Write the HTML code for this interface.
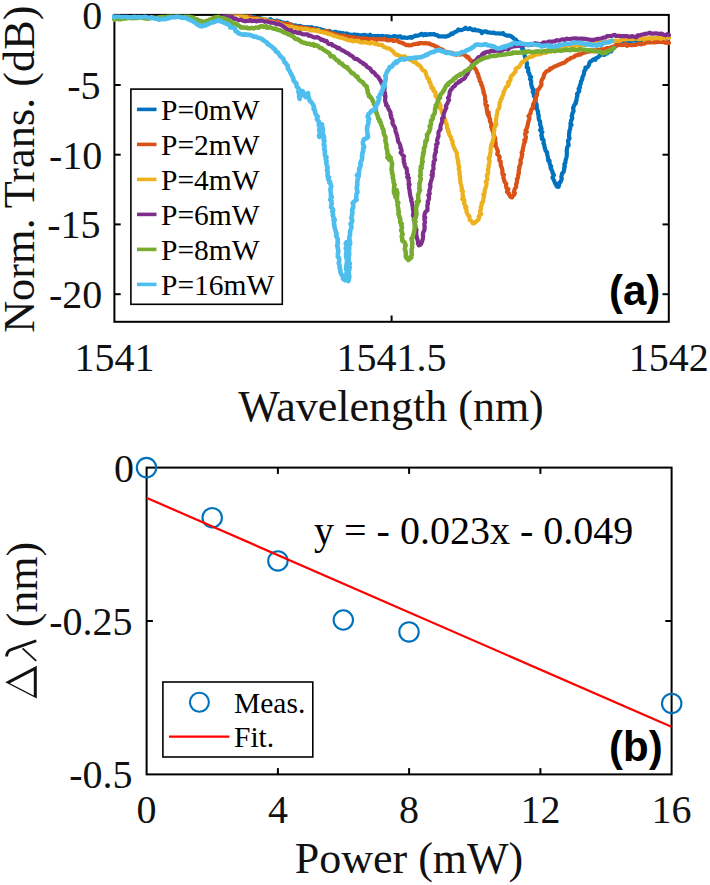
<!DOCTYPE html>
<html><head><meta charset="utf-8"><style>
html,body{margin:0;padding:0;background:#fff;width:710px;height:885px;overflow:hidden}
svg{display:block}
.tk{font-family:"Liberation Serif",serif;font-size:40px;fill:#111}
.lb{font-family:"Liberation Serif",serif;font-size:44px;fill:#111}
.lg{font-family:"Liberation Serif",serif;font-size:29.5px;fill:#000}
.eq{font-family:"Liberation Serif",serif;font-size:40px;fill:#000}
.pl{font-family:"Liberation Sans",sans-serif;font-size:42px;font-weight:bold;fill:#000}
</style></head><body>
<svg width="710" height="885" viewBox="0 0 710 885">
<rect x="114.4" y="14.9" width="554.4" height="306.90000000000003" fill="none" stroke="#000" stroke-width="2"/>
<text x="102.3" y="29.2" class="tk" text-anchor="end">0</text>
<line x1="114.4" y1="85.0" x2="120.7" y2="85.0" stroke="#000" stroke-width="2"/>
<line x1="668.8" y1="85.0" x2="662.5" y2="85.0" stroke="#000" stroke-width="2"/>
<text x="100.5" y="99.0" class="tk" text-anchor="end">-5</text>
<line x1="114.4" y1="154.7" x2="120.7" y2="154.7" stroke="#000" stroke-width="2"/>
<line x1="668.8" y1="154.7" x2="662.5" y2="154.7" stroke="#000" stroke-width="2"/>
<text x="102.3" y="168.7" class="tk" text-anchor="end">-10</text>
<line x1="114.4" y1="224.4" x2="120.7" y2="224.4" stroke="#000" stroke-width="2"/>
<line x1="668.8" y1="224.4" x2="662.5" y2="224.4" stroke="#000" stroke-width="2"/>
<text x="100.5" y="238.4" class="tk" text-anchor="end">-15</text>
<line x1="114.4" y1="294.2" x2="120.7" y2="294.2" stroke="#000" stroke-width="2"/>
<line x1="668.8" y1="294.2" x2="662.5" y2="294.2" stroke="#000" stroke-width="2"/>
<text x="102.3" y="308.2" class="tk" text-anchor="end">-20</text>
<text x="114.4" y="371" class="tk" text-anchor="middle">1541</text>
<line x1="391.6" y1="321.8" x2="391.6" y2="315.5" stroke="#000" stroke-width="2"/>
<line x1="391.6" y1="14.9" x2="391.6" y2="21.2" stroke="#000" stroke-width="2"/>
<text x="391.6" y="371" class="tk" text-anchor="middle">1541.5</text>
<text x="668.8" y="371" class="tk" text-anchor="middle">1542</text>
<defs><clipPath id="ca"><rect x="112" y="14.5" width="559" height="308"/></clipPath></defs>
<g clip-path="url(#ca)" fill="none" stroke-linejoin="round" stroke-linecap="round">
<polyline points="114.2,10.9 115.2,10.9 114.9,11.2 116.7,11.4 118.8,12.0 119.8,11.0 121.3,11.4 121.6,10.9 123.6,11.5 125.8,11.3 127.8,11.3 128.4,10.8 131.2,10.8 132.4,11.4 134.9,10.9 136.3,11.5 138.2,10.7 140.5,11.6 141.6,10.7 144.4,11.0 146.3,11.3 149.0,10.2 150.0,10.6 150.7,10.6 153.1,11.4 155.0,10.6 156.4,11.1 158.7,10.5 160.1,11.0 161.6,10.8 163.3,10.7 164.7,10.9 166.7,10.8 168.0,11.3 170.1,12.4 173.0,10.9 174.5,10.5 174.4,10.6 176.7,11.0 179.3,10.5 180.0,11.3 181.7,11.6 183.7,11.6 185.3,11.0 186.5,10.4 188.1,11.0 189.5,10.7 191.0,11.5 192.6,11.0 194.3,10.2 195.5,10.8 195.9,11.1 198.2,10.9 200.4,10.8 201.5,11.0 204.0,10.6 204.8,11.0 206.7,11.6 208.6,11.2 210.2,10.5 212.3,11.3 213.6,10.9 215.7,11.9 217.3,11.4 218.0,11.2 219.4,11.3 222.3,11.2 223.6,11.3 224.7,11.1 226.1,11.2 227.6,11.9 229.4,12.8 230.3,12.5 231.8,12.3 233.8,12.3 235.9,12.8 237.7,13.2 239.1,13.4 240.3,14.0 242.8,13.8 243.8,14.6 245.3,15.0 247.8,15.9 247.1,15.4 250.4,16.1 252.4,16.4 253.8,17.0 254.3,17.5 256.5,18.1 257.8,18.4 259.3,18.2 261.9,18.5 263.5,19.4 265.6,19.4 266.9,19.8 268.5,19.9 270.7,19.2 271.9,20.3 273.8,20.9 275.7,21.9 277.0,20.5 278.1,22.1 279.9,21.4 281.8,22.3 284.3,22.8 285.4,23.7 287.3,22.7 289.2,24.2 291.1,24.7 291.6,24.6 293.9,25.8 295.6,25.4 297.1,26.3 298.7,26.0 300.0,25.9 301.7,26.5 302.7,27.9 304.4,27.0 306.3,27.3 307.5,27.0 309.7,27.7 311.5,27.1 313.0,28.1 314.9,28.5 316.6,28.2 318.4,28.9 319.6,29.0 321.0,29.3 322.1,30.2 323.6,30.2 325.7,30.8 327.2,31.5 329.6,30.8 330.4,31.6 332.9,32.6 334.4,31.9 335.9,31.8 337.6,32.9 339.5,32.7 341.3,33.7 342.1,33.2 343.9,33.4 346.9,34.3 347.1,33.5 348.6,34.3 350.2,34.6 352.9,34.9 354.3,34.4 355.5,34.8 357.6,34.8 359.2,35.3 361.3,35.4 362.9,35.2 363.9,34.9 366.2,35.4 368.5,35.7 369.5,36.4 370.3,34.8 372.0,36.3 374.6,36.1 375.8,36.2 377.5,35.9 380.0,36.4 380.6,36.1 382.7,35.9 384.9,36.9 386.6,36.1 387.9,37.0 389.6,36.5 391.2,37.6 392.6,36.6 393.7,36.2 395.2,36.2 397.1,36.8 400.5,36.3 401.3,37.6 402.9,37.6 404.3,37.4 405.1,37.6 407.7,37.8 409.4,37.4 410.7,36.9 411.8,37.9 413.8,36.4 415.3,35.6 416.2,35.9 419.2,35.2 421.1,33.9 422.1,33.9 423.4,35.3 425.4,33.9 426.4,34.9 427.8,34.4 430.6,34.2 432.1,34.4 434.1,34.0 435.4,34.9 437.0,35.0 438.9,36.5 441.7,36.3 442.5,36.5 443.7,36.4 445.6,36.7 448.0,35.8 448.6,35.8 449.9,34.9 451.4,33.4 452.6,33.9 454.2,32.5 455.3,31.7 457.0,31.4 458.3,29.5 460.5,30.2 462.5,29.7 463.8,29.1 465.5,27.8 465.8,28.5 468.4,29.2 469.8,28.1 471.4,29.3 473.5,30.2 474.6,29.4 476.3,30.3 478.2,30.3 479.4,30.9 481.4,31.3 481.8,33.1 483.6,31.7 486.2,31.3 487.2,32.3 488.7,32.4 490.4,32.7 492.7,32.9 493.9,32.5 495.5,33.5 498.6,33.4 499.9,33.6 501.1,33.7 503.1,33.1 503.7,34.4 506.8,35.6 508.4,35.6 509.6,35.7 511.4,36.5 513.0,37.7 514.1,38.8 516.1,39.8 516.6,41.4 518.8,42.2 520.6,42.7 520.7,44.1 521.1,46.2 521.6,47.1 522.3,49.1 523.2,49.2 523.4,51.8 523.9,52.8 524.7,55.3 525.1,57.7 525.7,58.6 526.0,60.9 526.6,62.4 527.1,63.4 526.8,65.0 526.7,67.4 528.2,68.0 528.2,69.1 528.2,72.0 529.2,73.3 529.4,75.0 531.0,77.0 530.0,79.0 531.1,80.6 531.2,82.0 531.1,83.7 531.7,86.2 532.1,87.3 532.2,88.0 533.8,89.9 532.7,91.8 533.9,93.9 533.8,96.0 534.7,97.0 535.4,98.4 535.5,99.9 535.8,102.1 536.5,104.2 536.7,105.5 536.8,106.8 536.7,108.6 537.2,109.4 538.1,111.8 537.9,113.6 538.7,114.8 538.6,116.7 538.7,118.2 539.1,120.0 540.1,121.5 540.2,123.2 540.2,125.0 541.1,127.3 541.6,128.9 540.2,130.1 542.4,132.0 541.7,133.2 541.3,135.8 542.0,136.4 541.8,138.8 543.4,139.7 543.7,142.0 543.4,143.3 544.2,144.5 544.6,147.1 545.2,149.2 545.4,150.0 545.8,150.9 547.2,152.6 547.0,153.9 547.6,156.0 548.0,158.0 548.2,160.7 549.5,160.6 549.6,163.1 549.9,164.6 551.2,166.5 550.5,167.6 551.4,169.5 552.6,172.0 552.6,173.0 553.9,175.0 552.5,177.6 553.7,179.9 554.5,181.6 555.0,183.1 556.2,185.0 556.3,185.0 556.6,186.3 557.4,186.7 558.5,186.5 558.6,186.8 559.2,184.6 558.9,183.2 560.5,182.0 561.5,179.4 561.8,178.6 561.3,176.7 562.2,173.3 563.6,171.9 564.3,169.3 564.1,168.0 564.8,166.6 564.5,165.8 564.4,164.1 565.4,162.8 565.5,160.9 565.9,159.1 566.6,156.8 566.8,154.9 566.8,153.8 566.8,152.3 566.7,150.1 567.1,148.9 567.1,147.9 567.9,145.6 568.7,145.3 568.2,142.3 568.1,140.6 569.5,138.5 569.1,136.9 569.1,135.8 569.0,133.7 569.4,132.7 569.3,130.9 570.1,129.4 570.3,127.5 570.6,125.5 571.5,124.8 570.4,123.9 571.1,121.3 571.1,120.5 572.3,118.2 571.7,116.2 572.5,113.7 572.4,113.3 573.6,111.0 573.2,108.9 573.1,108.0 573.9,105.9 574.7,104.4 575.9,103.3 575.7,101.9 576.6,100.4 576.6,97.8 576.6,98.0 577.5,95.6 577.0,94.1 578.8,91.8 579.3,91.0 578.6,88.8 580.0,87.4 579.6,86.1 580.8,83.5 580.8,82.4 581.0,81.3 582.3,79.3 582.2,78.0 583.0,76.1 583.9,74.1 584.1,72.0 584.3,70.8 585.5,69.7 585.4,67.5 586.9,67.6 588.1,66.3 589.0,64.8 589.5,62.5 590.6,61.3 591.6,61.0 593.4,59.3 595.4,59.8 595.7,58.3 598.7,56.8 599.5,55.8 600.3,55.2 602.3,54.3 604.4,55.0 605.8,53.3 607.0,53.5 609.5,51.0 611.1,51.5 611.9,50.1 612.4,48.1 613.8,47.0 615.8,46.2 616.8,44.2 619.1,42.9 621.0,43.6 622.2,42.1 621.9,41.7 624.3,41.9 625.2,41.4 627.3,41.6 628.5,40.6 630.4,41.5 632.2,40.7 635.0,40.7 636.7,41.0 637.7,40.7 639.7,39.9 639.9,39.6 643.4,39.9 643.8,39.4 646.9,40.3 648.8,39.6 650.8,39.2 651.9,38.5 654.6,39.6 655.9,38.4 657.5,38.9 660.2,38.0 660.4,38.7 662.3,38.0 664.4,38.3 666.2,37.2 667.4,38.5 667.9,38.3 669.0,37.6" stroke="#0072BD" stroke-width="4.2"/>
<polyline points="113.8,11.5 114.4,11.1 115.6,11.3 117.4,11.0 118.6,10.7 119.3,11.3 120.0,10.9 122.4,10.8 122.3,10.9 124.9,11.0 126.8,11.4 127.8,11.0 128.7,11.3 130.5,9.9 132.5,10.4 134.3,10.8 135.7,11.3 137.8,11.3 139.7,10.6 140.4,11.0 143.0,10.8 144.9,10.8 147.5,11.4 148.2,10.7 151.0,11.0 152.5,10.6 153.7,11.0 155.6,11.0 158.1,11.0 160.4,10.2 161.9,11.2 163.2,10.0 165.6,10.6 167.0,10.1 168.3,10.0 171.0,10.9 172.6,11.2 173.2,11.2 176.1,10.5 177.4,10.9 179.3,11.2 179.9,11.2 182.3,10.6 183.8,11.3 184.1,10.9 187.6,11.1 189.4,11.4 191.4,10.8 193.2,11.1 194.2,11.3 196.5,11.4 198.2,11.2 200.1,11.0 201.8,11.5 203.2,11.6 204.4,10.8 206.7,11.7 207.4,10.4 209.5,11.6 210.7,11.1 212.7,10.9 213.3,10.9 215.2,11.6 217.0,11.3 219.1,11.7 220.8,10.9 221.5,11.7 222.9,11.3 223.9,12.0 224.4,12.0 226.3,12.2 228.8,11.5 230.0,12.2 231.9,12.1 233.5,13.6 235.9,12.6 238.0,12.3 239.6,13.5 240.3,14.9 242.2,14.6 244.1,15.1 245.6,15.3 246.6,15.9 248.0,16.4 250.2,16.4 251.1,17.5 252.6,17.9 254.7,18.4 255.1,18.4 256.6,18.2 257.5,19.7 259.7,19.5 262.7,19.3 263.3,20.5 265.9,20.4 267.5,21.2 269.0,21.6 271.4,21.6 271.9,20.9 274.6,22.9 275.8,22.4 276.7,21.3 279.0,22.8 280.9,23.0 281.1,23.8 284.0,23.4 286.1,24.6 287.4,23.8 289.2,24.1 290.6,24.6 292.2,26.0 294.8,26.8 295.1,27.1 296.8,26.5 298.2,27.8 299.7,27.4 301.3,26.9 302.1,28.2 304.2,28.0 305.8,28.0 307.1,27.9 309.7,28.7 310.7,28.4 312.8,29.3 314.1,29.1 315.4,29.8 316.9,30.2 318.3,30.8 320.0,31.4 322.1,32.1 323.8,31.3 325.6,31.0 327.8,31.1 329.8,33.1 330.3,33.4 332.4,33.9 334.6,33.7 335.6,34.5 337.4,35.4 339.6,35.2 341.5,35.6 342.8,35.8 344.7,35.3 345.5,36.5 348.2,37.2 349.2,36.6 350.8,37.2 352.7,37.1 353.8,37.4 355.2,38.4 358.2,37.9 359.5,38.6 361.4,39.2 362.5,38.2 364.4,38.6 366.5,38.6 367.8,39.3 369.5,39.1 371.5,39.0 372.6,38.6 375.0,39.2 376.9,39.8 378.2,39.0 379.2,39.1 381.5,39.3 383.3,39.5 384.3,38.7 386.4,39.9 387.7,40.3 389.9,40.1 391.6,40.2 392.3,39.8 393.4,40.9 394.3,40.6 397.9,40.7 399.1,42.2 401.3,42.5 402.5,43.3 403.2,43.2 404.7,44.3 406.4,45.2 408.0,44.9 408.9,45.3 411.5,45.1 413.2,44.3 415.3,44.2 416.6,43.7 418.4,44.0 419.1,43.2 420.8,43.1 422.0,43.0 424.2,43.5 425.7,42.9 427.5,43.6 429.2,43.3 430.3,44.3 431.0,44.4 434.3,45.5 435.4,46.4 436.9,46.7 437.8,47.3 439.5,49.0 440.8,48.9 442.9,49.9 444.4,51.1 446.4,52.1 448.1,52.6 449.6,52.6 450.4,52.9 453.2,53.3 454.4,53.7 456.2,54.8 458.4,54.1 460.7,54.6 462.0,54.1 463.2,53.5 464.6,54.9 467.6,57.6 468.0,56.8 469.1,58.3 469.8,59.5 470.7,60.5 472.5,61.3 472.4,62.7 473.9,63.5 473.3,66.5 475.0,68.4 476.2,70.0 476.6,71.0 477.0,72.9 478.2,74.2 478.5,77.1 479.2,77.8 479.6,79.1 479.9,81.2 481.2,82.7 481.2,84.7 482.2,85.8 482.7,88.2 482.9,89.3 483.8,91.9 483.5,92.5 484.0,93.9 485.0,96.2 485.0,97.8 485.2,100.4 485.8,101.6 485.4,102.9 485.5,104.8 487.1,105.8 486.4,107.3 486.9,109.2 487.0,112.2 488.7,112.5 487.6,114.2 489.0,115.2 488.7,116.3 490.2,119.5 489.8,119.9 490.1,121.7 491.1,123.3 491.6,124.7 491.1,126.6 492.2,128.3 492.0,130.0 492.5,130.2 493.2,132.9 493.3,134.6 494.6,136.7 495.3,138.8 494.8,141.1 495.3,141.4 495.8,144.0 495.3,146.2 496.2,147.0 496.7,148.2 497.6,150.3 498.0,151.7 497.2,154.2 498.5,155.3 499.7,156.9 499.3,158.8 499.3,160.5 500.7,161.5 500.7,163.7 500.8,165.4 501.4,166.9 502.1,168.7 502.5,171.4 502.3,172.6 502.5,174.3 503.9,174.6 503.3,177.8 503.7,178.6 504.5,181.0 504.4,181.6 506.3,183.9 506.0,185.5 506.6,188.4 508.4,189.1 507.0,191.8 509.0,193.3 508.7,193.9 510.5,196.8 510.8,196.3 510.9,197.2 512.2,197.4 512.5,195.8 513.8,195.2 514.9,193.3 513.8,192.2 514.9,188.6 516.2,187.0 516.1,184.1 516.5,183.5 517.0,182.0 517.1,180.2 516.8,179.1 518.0,177.8 518.1,174.7 518.6,174.1 519.0,172.6 518.7,171.1 519.4,168.1 519.1,167.5 519.7,165.9 520.8,163.2 520.5,161.4 520.4,160.4 521.2,158.5 521.8,156.8 521.8,155.6 522.4,154.4 521.6,152.6 522.8,150.5 522.8,149.1 523.0,147.9 523.6,146.0 524.1,143.2 525.2,141.5 524.3,140.2 525.5,139.2 526.0,137.2 525.7,136.5 525.0,133.8 526.8,131.8 525.6,130.5 526.4,129.0 527.6,126.4 527.4,126.1 528.3,122.3 528.2,122.2 528.9,120.1 529.4,119.2 529.4,117.1 528.5,116.2 529.5,114.7 530.6,113.4 530.8,111.2 531.6,109.0 533.1,108.4 532.9,105.9 533.1,104.3 534.0,102.9 534.4,102.4 534.9,100.2 535.8,98.9 535.6,96.9 536.7,96.0 537.1,93.9 537.4,91.7 537.2,90.4 539.2,88.6 539.7,87.6 540.7,86.0 541.5,84.8 541.2,82.0 541.3,81.4 541.8,80.1 543.0,77.9 543.8,76.4 543.9,75.4 544.2,74.1 545.8,72.1 547.0,71.0 549.3,70.3 550.2,68.5 551.1,68.8 552.6,67.8 554.1,66.6 555.4,66.3 557.5,65.3 558.8,64.8 560.8,64.0 561.7,63.4 564.4,62.8 566.0,61.2 566.8,60.9 567.5,59.8 569.4,59.2 570.6,58.1 572.6,57.4 574.6,56.6 575.3,55.5 577.5,55.2 578.3,54.4 580.3,54.7 581.8,53.4 584.8,52.5 585.2,52.4 586.5,52.1 588.8,51.2 589.8,51.4 591.8,51.2 593.9,50.1 595.4,50.9 597.2,49.9 598.4,49.7 600.6,50.1 601.2,49.2 603.3,49.5 605.0,49.0 606.7,48.2 608.6,48.1 610.1,48.0 611.1,47.2 613.7,46.4 615.0,46.0 616.7,45.4 618.1,44.9 620.3,44.8 622.1,45.2 623.5,45.0 624.4,44.6 625.6,44.1 627.0,45.8 628.9,44.8 631.6,45.3 632.8,45.1 633.7,45.0 635.8,44.9 637.4,44.2 638.9,43.8 641.2,44.4 642.7,43.5 644.2,43.8 646.5,42.3 647.8,42.5 649.7,42.5 651.5,42.3 653.5,41.3 654.1,42.5 656.1,42.1 658.2,41.9 660.6,42.0 661.3,41.8 663.5,42.0 666.0,42.9 666.5,42.6 667.9,41.8 669.0,42.9" stroke="#D95319" stroke-width="4.2"/>
<polyline points="114.3,11.6 114.5,11.2 116.5,11.2 117.2,10.9 118.2,10.0 119.0,10.5 121.0,11.5 121.6,11.0 123.3,11.5 124.6,11.6 126.2,11.4 127.4,11.5 129.2,11.7 131.7,10.6 133.5,11.3 134.0,11.9 135.7,10.7 137.9,10.3 138.4,10.1 141.5,10.8 142.9,10.9 145.0,10.9 147.3,10.7 149.5,10.7 150.3,10.9 152.9,10.7 155.1,10.9 155.9,10.9 157.9,11.4 160.3,10.3 161.7,11.2 163.4,10.6 165.8,11.6 167.4,10.2 169.4,10.6 170.7,11.0 172.5,11.1 174.0,11.2 174.9,11.2 176.7,10.8 178.9,11.6 180.5,10.9 182.0,10.9 183.4,10.8 185.9,10.6 188.1,10.7 190.1,10.8 191.3,10.4 193.1,11.1 194.9,11.2 197.2,10.3 199.1,10.9 200.0,11.5 202.8,10.9 204.8,12.0 205.5,11.5 207.2,10.9 208.5,11.1 210.6,11.2 211.9,12.0 212.7,10.5 214.6,11.4 217.0,11.3 218.0,11.7 218.9,12.5 220.8,12.2 222.0,11.4 223.4,11.1 224.5,12.3 226.5,12.7 228.1,13.1 230.5,12.6 231.6,13.0 233.8,13.7 235.1,14.1 238.7,13.6 239.3,14.8 240.4,15.7 242.6,16.4 243.3,16.7 245.1,16.7 246.9,17.3 248.1,19.3 248.4,18.5 249.8,19.0 251.7,19.1 253.9,19.4 256.5,19.3 257.0,19.7 258.1,19.0 260.0,19.5 261.4,19.7 263.1,19.3 265.0,19.4 265.6,20.0 268.1,20.5 269.2,21.2 270.5,21.7 272.7,21.7 274.2,22.6 275.9,23.3 278.4,23.7 280.1,23.6 281.4,24.0 282.6,25.0 285.0,25.7 286.2,26.0 286.9,26.2 289.9,26.5 291.2,26.5 293.0,27.2 295.5,27.8 296.1,27.7 298.4,28.7 299.8,29.0 300.5,28.7 304.1,29.1 305.2,28.6 306.7,29.2 308.7,29.4 309.8,29.9 311.1,30.5 313.5,30.2 315.1,30.4 317.6,31.2 318.5,29.9 320.2,31.9 322.6,32.0 323.9,32.4 326.2,33.0 327.3,33.5 328.5,33.9 329.8,34.2 332.2,34.8 333.8,35.9 335.5,36.0 336.6,36.5 338.4,37.0 339.0,37.4 341.2,37.7 342.9,38.1 345.2,39.1 346.2,39.2 346.8,39.8 349.2,40.4 351.5,40.2 352.5,41.4 354.7,40.8 356.4,41.1 358.7,40.9 359.8,42.3 362.2,42.5 363.6,42.4 364.9,42.1 367.1,42.6 368.0,43.0 370.6,43.3 371.5,42.0 373.3,42.7 375.0,44.1 377.4,43.9 378.3,44.8 380.9,44.8 382.3,45.0 383.3,46.8 385.0,47.1 386.8,48.3 388.3,48.3 390.1,49.0 391.1,50.0 392.8,51.0 394.3,53.2 394.7,53.6 396.3,54.8 397.8,54.8 399.7,56.0 401.1,56.5 404.3,56.4 405.3,56.6 406.0,57.4 408.0,58.8 409.9,60.0 411.4,60.1 413.0,61.6 415.3,62.6 415.9,62.2 417.6,64.7 418.9,64.9 420.2,66.0 421.4,67.7 421.8,69.2 422.9,70.4 424.8,70.8 425.7,72.8 426.2,74.8 426.6,75.6 427.5,78.4 429.0,79.2 429.1,81.8 430.3,82.2 430.5,84.5 431.3,85.4 431.4,87.8 433.3,88.3 433.4,90.9 434.6,91.3 435.7,93.1 435.3,95.7 436.5,96.8 436.6,97.6 438.1,99.3 437.9,100.7 438.1,101.6 439.7,103.6 438.4,104.4 440.6,105.6 439.8,107.8 440.8,108.8 442.0,111.3 441.8,112.3 442.7,113.4 443.0,115.4 443.9,117.8 444.3,118.7 445.4,119.9 445.3,122.6 446.7,124.2 447.0,125.6 447.0,128.0 448.1,129.5 447.8,131.3 449.0,132.2 448.9,134.1 450.3,136.3 450.9,136.9 451.0,138.1 451.9,140.4 452.7,141.5 452.5,143.6 453.0,144.6 453.7,147.1 454.5,148.6 455.2,150.0 455.5,150.5 456.9,153.2 456.8,154.0 457.0,156.0 457.3,157.4 457.5,159.0 458.3,161.4 457.9,162.7 458.4,163.3 458.7,165.9 459.4,167.1 458.7,168.5 459.1,170.7 459.8,172.2 459.3,173.9 460.0,176.2 460.1,177.0 460.1,178.7 460.3,180.9 460.5,183.2 461.1,184.6 461.3,186.2 461.9,188.1 461.5,190.3 462.9,191.1 462.6,193.7 462.6,195.1 463.3,196.6 462.2,199.0 464.2,199.8 464.6,201.7 463.9,202.7 464.6,204.9 466.4,207.1 465.3,207.8 466.5,209.9 466.5,212.0 467.2,213.4 468.1,215.2 469.5,216.2 469.4,217.8 469.7,219.9 470.6,220.6 471.5,221.2 472.9,223.5 474.7,223.0 476.3,221.3 478.6,219.5 479.0,218.2 478.7,216.3 479.4,215.4 481.3,214.1 480.3,212.9 480.0,211.1 481.0,209.0 480.7,207.0 481.6,205.6 481.6,202.9 482.8,202.3 483.2,200.1 483.4,198.4 483.7,197.5 484.1,196.2 483.2,194.3 484.7,193.1 484.5,191.6 485.0,189.2 485.7,187.6 486.2,186.1 486.7,183.6 485.7,181.8 486.9,180.2 487.6,179.2 487.0,176.9 486.8,175.1 487.5,174.8 488.4,172.1 487.8,169.7 488.3,168.6 488.6,167.5 488.5,166.0 489.3,163.7 489.3,162.4 489.7,160.9 488.6,158.4 489.9,156.1 489.8,155.8 490.4,153.3 490.6,152.2 490.6,150.1 490.6,148.1 491.1,146.6 491.1,145.7 491.7,143.8 492.9,141.4 492.8,140.0 493.4,138.5 493.7,136.9 493.1,134.7 493.8,133.5 493.9,131.9 494.4,129.8 494.3,128.8 494.4,127.6 495.2,126.3 496.4,124.8 495.9,122.3 495.8,120.3 496.1,119.0 496.6,116.8 496.6,115.7 497.1,114.3 497.3,112.4 497.3,111.0 498.3,109.3 499.1,108.2 499.6,106.0 499.4,105.4 499.7,102.7 500.7,101.2 500.7,99.9 501.7,98.6 502.1,96.7 503.0,95.1 503.7,93.1 503.5,92.0 504.7,90.1 505.4,88.1 506.1,87.1 507.8,86.0 508.8,84.2 507.9,82.5 509.5,81.3 510.7,79.5 510.4,78.0 511.3,76.1 512.4,75.0 513.7,73.9 514.3,72.8 515.6,71.7 515.6,68.9 517.2,67.9 518.8,67.1 520.2,65.3 520.9,64.0 521.6,62.3 522.8,62.0 524.0,61.2 525.5,59.9 526.7,59.1 528.3,57.8 530.2,56.5 530.9,57.0 533.1,56.0 534.0,55.6 536.1,54.5 538.0,54.4 539.7,54.5 541.9,53.3 543.1,52.5 545.7,52.8 546.2,52.8 547.8,51.6 548.4,50.6 549.8,49.8 552.1,48.8 553.9,49.3 554.9,48.8 555.9,48.9 558.9,48.4 560.2,47.3 561.8,47.2 563.0,46.9 565.4,46.8 566.6,45.4 567.8,45.6 569.0,45.2 570.6,44.9 572.7,45.4 574.6,46.3 576.6,45.1 577.4,44.2 578.8,45.1 580.7,45.3 582.2,44.8 585.2,45.0 586.1,44.6 587.5,44.1 589.6,43.5 591.1,44.0 592.9,43.7 594.8,43.3 596.7,43.0 597.5,43.1 599.8,42.7 600.3,42.4 603.1,42.7 604.2,41.9 604.9,41.6 607.6,42.6 608.5,41.4 611.0,40.9 611.2,40.6 614.0,41.5 615.0,40.5 617.0,40.8 619.9,40.8 620.4,40.5 622.8,39.4 625.0,39.3 625.5,39.3 627.9,39.2 629.2,38.6 631.3,39.2 633.2,39.2 634.8,38.4 636.7,38.6 638.0,39.1 639.8,39.1 641.4,38.1 644.0,39.6 645.7,38.2 648.1,38.6 650.2,37.8 651.8,39.1 653.2,38.6 655.2,38.0 657.0,38.1 659.2,37.7 660.6,38.8 662.6,38.0 663.8,37.5 664.6,38.0 666.0,37.6 667.5,37.1 668.4,37.9 669.0,37.6" stroke="#EDB120" stroke-width="4.2"/>
<polyline points="114.0,11.1 114.0,11.1 115.8,10.4 116.5,11.1 118.5,11.3 119.3,11.5 120.2,10.1 121.9,11.2 123.2,10.9 124.9,10.3 126.1,11.2 127.7,11.1 129.5,10.6 130.8,10.7 132.6,11.5 134.2,10.1 136.4,10.7 137.7,10.5 140.5,10.7 141.9,11.1 143.8,11.5 145.8,11.3 147.9,10.7 149.6,10.8 150.7,11.5 153.3,11.3 155.9,9.8 157.4,10.9 159.8,11.3 161.6,11.3 163.1,10.8 164.5,10.8 166.3,11.6 168.0,10.4 170.2,11.4 171.8,11.0 173.2,10.9 174.0,11.5 176.1,11.6 177.3,10.7 178.4,11.2 180.0,11.6 182.5,10.6 185.0,10.9 186.2,10.6 188.9,10.5 190.7,10.8 193.1,11.3 195.6,10.7 196.8,11.1 198.7,10.9 200.8,11.5 201.6,11.5 203.7,11.0 205.6,11.2 206.5,11.7 208.1,11.2 208.9,11.1 211.0,11.8 211.4,11.2 213.3,11.8 213.7,11.2 214.9,10.5 217.6,11.2 220.2,11.7 222.3,11.3 223.1,12.8 223.2,14.1 224.3,14.4 225.3,15.0 228.4,15.6 228.7,15.7 229.0,16.8 232.1,16.7 233.8,18.8 235.8,18.5 237.2,19.4 238.5,20.2 239.1,20.2 240.9,19.6 243.0,20.7 245.1,21.3 246.3,21.0 248.7,20.8 250.2,20.2 251.9,21.1 253.3,20.8 255.3,20.9 256.3,21.3 257.0,21.2 260.3,20.7 261.6,20.7 262.7,20.7 264.4,21.4 264.9,21.8 266.6,21.3 268.9,21.9 270.3,22.6 272.3,22.7 273.7,22.9 274.8,23.2 276.9,24.3 278.7,23.8 280.7,25.1 281.6,25.1 283.3,26.4 284.8,27.4 286.2,28.9 288.1,30.1 289.0,30.1 291.3,30.4 292.2,31.8 294.0,32.2 295.3,31.9 297.1,32.8 298.7,33.2 299.6,32.4 302.1,34.1 304.0,34.4 305.5,34.3 307.8,34.4 308.8,35.9 309.8,35.5 311.3,36.0 312.9,37.0 314.8,37.6 316.9,37.1 317.8,37.3 320.4,39.1 321.2,39.9 322.8,39.6 324.3,41.1 326.1,40.8 326.8,41.3 328.0,43.4 329.4,44.2 331.8,44.0 332.6,45.5 333.9,45.8 336.1,46.8 337.5,48.3 339.1,47.9 340.3,49.1 341.7,50.1 342.6,50.4 344.9,51.6 346.6,53.0 347.7,53.0 349.0,54.2 350.1,55.1 352.7,56.3 353.5,57.5 355.0,58.9 357.0,58.8 357.9,59.8 359.8,61.1 361.1,62.3 363.2,62.9 363.4,64.0 365.7,64.7 366.6,66.4 367.5,67.2 370.3,68.7 371.1,70.3 372.4,72.1 373.6,72.1 374.8,73.5 376.2,75.6 377.1,75.9 378.8,77.7 379.1,78.8 380.5,80.6 381.2,82.3 382.0,83.6 382.8,84.7 383.0,86.7 384.5,87.9 384.5,90.0 383.6,91.6 385.1,93.1 384.9,96.4 385.5,96.0 385.2,98.9 385.1,100.6 385.6,102.6 386.3,103.5 386.1,105.2 387.5,106.0 388.2,108.2 389.3,110.3 389.6,110.8 390.6,112.6 390.4,114.8 391.3,115.9 391.0,117.6 392.4,119.7 392.7,121.4 392.3,122.6 393.1,124.6 393.9,125.7 394.9,127.6 395.3,128.7 395.5,130.8 396.2,133.0 396.5,133.9 397.2,135.7 397.4,137.1 397.9,139.4 398.0,141.3 399.0,142.7 399.4,143.3 400.6,146.2 400.3,147.7 401.1,148.6 401.7,151.0 400.6,152.6 402.1,154.6 404.1,156.3 403.8,157.1 403.4,159.1 403.9,160.2 403.7,162.1 404.4,163.3 404.7,165.4 405.4,167.2 406.7,168.3 406.7,169.9 407.1,171.7 406.8,173.1 408.1,174.9 407.2,177.1 408.9,178.1 408.4,179.3 408.9,181.8 408.6,184.3 409.6,184.6 408.9,186.2 409.1,188.4 409.6,190.2 409.7,192.4 410.0,193.7 410.4,196.1 410.6,197.0 411.5,199.5 411.1,200.2 411.7,201.9 412.2,203.7 412.3,204.9 412.8,207.9 412.9,209.1 413.2,210.8 413.9,212.7 413.3,213.2 412.9,215.6 414.2,217.6 413.9,218.6 414.1,219.6 414.3,221.2 414.8,223.8 415.4,225.5 415.3,227.0 416.0,228.7 416.5,230.3 416.1,232.0 416.3,233.7 416.0,235.4 416.5,235.8 417.4,239.7 418.3,242.3 417.9,243.4 419.1,245.5 418.8,245.5 419.2,245.0 420.6,244.7 421.3,243.5 422.2,241.1 422.8,238.8 423.2,235.7 422.8,235.4 423.0,233.1 423.5,231.9 424.5,230.0 424.5,228.0 424.7,226.9 424.3,224.1 425.0,222.3 424.7,220.7 424.3,218.7 425.3,217.5 424.3,216.2 424.7,213.7 425.5,212.0 426.5,210.9 427.5,210.2 427.5,208.8 427.4,206.1 427.5,204.3 428.0,204.0 428.0,202.9 427.7,201.4 428.4,200.4 429.0,198.7 429.0,196.6 428.3,195.1 429.8,193.7 429.2,191.4 430.2,187.6 430.3,187.5 430.5,185.6 429.9,184.7 430.6,182.7 430.8,182.0 431.7,179.1 431.8,178.2 432.7,175.8 431.6,175.0 432.9,173.4 432.1,171.6 433.5,169.2 433.5,167.7 433.2,165.3 433.8,164.2 433.6,161.8 435.1,160.0 434.6,158.6 434.5,156.1 434.9,154.6 435.3,153.1 436.0,151.8 435.6,149.6 436.0,148.7 436.6,146.0 436.0,144.6 437.7,143.4 437.4,141.9 437.0,140.4 437.7,138.1 438.5,136.3 438.4,133.1 438.6,132.1 438.9,131.3 440.6,129.1 440.4,127.1 440.6,125.5 441.0,124.6 441.7,122.6 442.1,121.3 442.2,119.9 442.0,118.5 443.8,117.3 443.4,116.9 443.7,114.0 443.9,113.1 444.7,111.3 445.1,110.5 446.4,107.5 445.8,106.8 446.2,105.3 447.4,103.3 447.9,102.0 449.1,100.0 448.0,98.0 449.0,96.2 449.5,94.6 449.6,93.0 449.8,91.6 451.2,89.3 452.2,88.5 453.2,86.8 454.9,85.9 455.5,84.5 456.7,83.4 458.6,82.6 458.9,81.4 460.4,81.5 461.7,79.8 463.9,78.8 465.3,77.4 465.2,76.9 466.6,74.2 467.2,74.3 468.3,72.0 468.9,70.0 469.9,69.1 471.2,67.4 471.5,65.5 473.3,64.5 473.4,62.9 474.8,61.0 475.7,60.5 477.3,58.6 478.3,57.6 478.9,56.9 481.4,56.2 482.2,54.3 483.6,53.1 484.6,53.5 485.4,52.2 487.3,51.9 489.1,51.9 490.7,50.8 491.9,50.7 493.9,51.3 495.1,50.9 497.9,50.1 499.4,51.7 501.1,49.7 501.5,50.8 503.8,49.3 505.1,48.9 507.8,49.4 508.6,48.9 509.9,47.6 511.5,47.0 513.5,46.3 515.4,46.1 518.3,46.0 518.9,45.8 520.5,45.3 521.9,44.8 523.5,45.7 525.0,44.8 527.3,44.3 529.7,45.0 531.2,44.4 532.7,44.6 534.7,43.1 535.5,43.6 537.3,43.5 539.1,44.1 540.8,44.7 542.3,43.3 543.6,42.4 545.7,42.5 547.5,42.3 549.1,41.5 551.4,41.7 552.0,41.8 553.8,41.3 554.6,41.5 556.5,40.1 558.3,40.6 559.8,40.4 562.1,39.3 563.2,39.4 564.7,40.0 566.5,38.6 567.7,38.8 570.0,39.0 572.0,38.7 574.2,38.3 575.4,38.7 576.8,38.4 577.7,39.5 579.5,38.5 581.7,38.7 584.5,38.9 586.0,38.8 586.4,39.2 588.1,39.4 590.0,39.8 591.9,39.8 594.0,39.9 595.2,39.4 597.0,38.9 598.4,38.8 600.7,38.5 602.2,38.2 603.2,37.6 605.6,37.5 607.0,36.1 608.5,36.1 610.7,36.0 611.8,35.9 613.9,35.0 614.9,34.9 615.9,36.0 618.5,35.8 619.4,36.1 621.4,36.2 622.9,36.0 625.2,36.1 627.3,36.2 628.1,36.7 630.1,36.7 630.7,36.7 632.4,36.1 635.9,37.4 637.2,36.6 637.4,35.4 639.9,35.3 642.3,34.5 642.9,34.6 645.0,33.8 645.7,34.0 647.7,33.5 649.9,32.6 651.1,33.6 653.7,33.6 655.5,33.3 658.1,33.7 659.8,33.9 661.6,33.7 663.6,34.7 665.6,35.3 667.1,34.1 668.4,34.5 669.0,35.0" stroke="#7E2F8E" stroke-width="4.2"/>
<polyline points="113.4,18.3 114.7,19.7 115.3,19.0 117.1,19.0 118.3,19.0 119.5,19.3 122.0,19.1 122.7,18.5 123.8,18.5 126.2,18.4 128.2,17.8 130.6,18.1 132.7,18.3 133.9,18.0 136.1,17.9 137.4,18.0 139.0,17.6 141.4,17.5 142.7,18.0 145.1,18.3 147.1,18.8 148.8,18.4 150.2,18.2 151.8,17.5 153.8,18.2 154.2,17.7 156.8,17.9 158.0,17.9 159.8,17.2 162.1,16.8 163.4,16.9 165.9,17.0 167.6,16.3 170.3,16.1 171.4,16.7 173.6,16.0 174.2,16.6 175.3,15.9 178.2,16.7 179.6,16.1 180.9,16.6 181.9,16.8 183.6,16.5 184.0,17.2 186.0,15.7 188.1,16.0 189.9,16.6 191.2,17.4 193.3,17.6 195.4,19.0 196.6,19.6 197.5,19.6 199.1,20.6 200.0,21.5 201.6,21.0 202.8,22.1 204.6,22.4 205.9,21.0 207.9,20.8 209.5,19.6 211.8,19.1 213.1,18.1 214.4,17.4 216.4,17.3 217.9,16.8 219.9,17.5 220.9,17.9 223.7,18.2 225.0,19.9 226.3,19.6 228.8,20.0 229.5,20.6 231.6,22.4 232.5,24.1 235.0,23.5 236.3,24.3 237.2,24.6 239.9,26.4 240.8,27.5 243.2,27.3 244.9,27.8 246.7,27.5 247.9,28.2 249.8,28.3 251.6,27.8 253.7,28.4 255.7,27.5 257.1,27.4 258.9,27.7 260.4,26.3 262.2,26.3 263.6,26.9 266.4,26.3 267.0,27.8 269.0,27.6 270.2,27.3 273.5,28.8 274.6,28.5 276.0,29.0 276.9,29.5 278.8,30.0 280.8,30.5 282.1,31.5 282.9,31.9 285.3,32.9 286.4,33.0 288.3,34.4 289.1,34.5 291.0,35.4 292.8,36.2 293.5,37.0 295.4,38.8 297.7,38.9 298.6,40.1 299.8,40.4 301.5,42.0 303.4,42.7 304.7,42.7 306.8,43.8 308.9,43.8 309.5,43.8 311.1,44.8 313.3,44.1 314.2,45.8 315.7,45.2 318.1,46.2 319.9,48.0 321.5,48.0 322.6,48.9 323.8,49.9 324.5,50.3 326.7,51.7 327.9,52.5 329.6,53.5 330.7,56.4 332.6,56.1 334.0,57.0 334.4,58.0 335.9,59.4 337.0,60.3 338.9,61.3 339.4,62.9 342.1,63.6 342.5,64.8 344.2,66.0 344.5,66.6 347.4,67.3 347.5,68.7 349.2,69.8 350.8,71.8 352.0,73.2 353.5,73.5 354.7,74.9 356.7,77.1 357.5,76.6 358.5,79.0 359.4,80.2 362.0,81.8 363.0,82.6 363.9,84.3 365.0,85.2 366.8,86.6 367.0,89.1 367.6,90.0 367.8,93.0 369.1,94.8 368.9,96.2 370.8,97.3 371.3,98.2 372.7,100.7 372.9,100.8 373.7,103.1 373.8,103.7 375.6,106.4 375.6,108.6 376.0,109.8 375.7,111.9 376.5,112.7 376.9,114.0 378.1,117.1 378.1,118.5 379.8,120.2 379.4,121.3 380.8,122.6 381.0,124.1 381.9,126.1 382.3,128.1 383.3,129.5 383.6,130.5 383.7,133.4 384.2,134.6 384.5,135.5 385.4,136.8 385.5,139.9 385.3,140.4 385.9,143.0 386.6,144.9 386.3,146.6 386.5,148.2 387.2,150.2 387.3,150.5 387.5,154.3 388.9,155.5 387.3,157.5 388.9,158.5 389.1,159.7 390.7,157.6 390.7,158.9 391.1,160.3 391.7,162.5 392.2,163.8 391.9,165.9 391.7,168.0 391.5,170.0 392.2,171.6 392.0,173.5 392.7,174.5 393.1,176.5 392.7,177.3 393.6,180.5 393.5,180.7 393.6,182.4 394.7,184.9 394.1,185.9 394.1,188.8 393.8,191.2 394.0,192.7 394.6,194.0 395.4,195.8 395.6,196.8 395.6,197.4 395.2,196.3 396.4,193.6 395.9,190.8 396.2,190.3 396.7,190.0 396.3,192.0 397.4,192.5 397.4,193.3 397.1,196.4 397.0,198.7 397.1,201.2 398.4,202.7 397.4,204.4 397.9,206.5 398.2,208.5 398.5,210.8 398.9,211.9 398.3,213.7 399.5,216.6 399.4,217.3 400.3,218.8 400.2,220.6 400.2,222.2 401.9,223.8 401.1,225.1 402.0,227.3 401.9,228.6 401.1,230.3 402.0,231.9 402.7,234.3 402.0,235.2 401.7,236.9 402.5,238.8 402.1,240.4 403.3,241.6 404.7,242.5 405.7,245.3 405.2,245.3 405.1,248.0 404.8,249.3 405.6,251.3 405.8,252.5 405.8,254.7 405.8,256.9 406.2,257.5 408.3,259.9 411.3,257.5 410.3,257.0 411.0,256.1 411.9,254.8 411.6,252.7 411.6,251.0 411.6,249.9 412.2,247.3 412.0,245.8 412.4,243.3 412.1,241.8 411.4,238.8 412.4,238.2 412.8,236.5 413.4,234.4 413.9,233.1 414.0,231.8 414.3,230.4 414.6,228.5 414.9,225.5 414.7,225.8 414.8,223.3 415.6,221.8 413.8,219.8 415.6,218.1 415.7,217.3 416.3,215.4 416.5,214.3 416.3,212.3 416.2,210.3 416.2,207.7 416.2,207.1 417.2,204.6 417.5,203.4 416.7,202.0 419.0,201.1 418.1,198.8 418.2,196.8 418.0,195.3 418.9,192.9 419.1,191.9 420.1,190.2 419.1,188.3 419.5,187.0 419.6,184.7 419.3,183.9 420.2,181.5 420.7,179.5 420.8,178.7 419.9,175.9 420.7,174.9 420.5,172.9 420.6,172.2 420.4,169.8 421.7,168.0 420.7,166.8 422.0,164.9 422.0,162.2 422.8,161.7 422.2,160.0 422.3,158.6 422.8,156.2 423.5,153.7 423.0,153.0 423.7,152.1 424.0,150.6 423.9,148.3 424.9,146.7 425.1,144.5 425.5,143.1 425.3,141.4 427.0,140.1 427.0,137.7 427.2,136.5 426.9,134.7 427.5,134.4 429.2,131.5 429.6,130.2 429.9,129.5 430.3,127.7 429.6,126.3 430.8,124.9 431.0,122.8 431.0,120.6 431.7,120.1 432.8,118.6 432.7,116.0 433.9,114.7 434.7,113.1 435.1,110.6 435.0,108.7 436.2,106.8 435.6,105.6 436.6,104.2 437.5,102.2 438.3,100.5 438.7,98.6 440.1,97.8 439.8,95.9 440.7,94.2 442.4,92.8 443.1,91.3 443.5,90.9 444.2,89.7 445.6,86.7 446.5,85.2 448.1,84.9 448.3,83.2 450.4,81.8 452.1,80.7 453.5,79.9 453.8,78.5 455.6,78.3 456.2,76.7 458.3,75.5 460.2,75.3 460.4,74.0 463.1,73.6 464.3,71.9 465.2,71.1 467.7,70.2 468.8,68.7 470.9,68.1 471.8,67.0 472.4,65.2 474.0,64.6 474.9,63.4 476.8,62.1 477.2,61.7 478.9,60.4 480.4,60.1 482.0,58.5 482.9,58.8 484.2,58.2 486.2,57.5 488.8,57.1 490.0,56.2 490.2,55.7 492.5,56.0 494.2,56.0 496.4,55.7 498.0,54.9 499.2,55.1 501.0,55.0 503.4,54.6 505.0,54.5 506.7,54.3 508.5,53.5 510.1,53.8 512.0,53.5 512.7,52.6 514.8,52.8 517.2,52.6 518.7,52.9 520.3,52.4 522.4,52.2 523.3,52.8 524.9,51.6 525.9,52.5 528.3,51.2 529.8,51.6 531.7,52.1 533.0,52.4 534.8,51.7 537.5,51.2 537.9,51.4 540.4,51.5 542.0,52.2 543.1,51.2 544.8,51.0 546.6,51.4 547.6,50.5 550.7,51.4 550.9,51.3 553.6,49.7 554.2,51.2 556.1,50.9 558.2,50.4 558.6,50.4 561.4,50.7 562.2,50.6 565.6,49.8 566.0,49.9 567.5,49.8 570.4,50.3 571.8,48.9 572.7,49.1 573.9,49.8 576.0,49.9 577.8,49.8 580.1,48.9 581.7,49.5 583.0,49.6 585.4,49.7 586.2,50.5 588.7,50.3 589.7,50.0 592.3,50.6 593.6,51.3 594.5,51.1 597.2,51.5 599.8,51.6 601.4,52.4 602.7,53.4 604.3,52.2 605.8,52.8 607.0,51.8 609.2,50.6 611.2,49.8 613.3,48.6 614.0,48.1" stroke="#77AC30" stroke-width="4.5"/>
<polyline points="113.3,16.1 114.8,17.6 115.8,16.2 116.5,15.8 118.8,16.0 120.0,17.0 122.8,16.9 124.8,16.8 126.7,16.8 128.6,17.3 129.1,17.3 132.2,17.2 133.4,17.2 134.3,16.4 137.3,17.4 138.3,16.9 141.0,17.0 142.4,17.1 144.6,16.4 146.1,16.9 147.3,17.4 149.3,17.7 151.2,18.0 151.5,17.3 153.9,18.1 156.0,18.7 157.8,18.6 158.6,19.8 161.3,19.2 162.8,18.6 163.9,19.3 165.5,18.9 168.7,18.1 169.3,18.1 171.3,17.2 173.2,17.2 175.4,17.3 176.6,16.4 178.8,16.7 180.3,17.4 182.0,17.6 183.2,17.7 185.2,17.3 187.1,18.7 188.7,19.2 190.5,20.3 192.3,20.9 193.6,21.7 195.3,22.8 196.9,24.2 198.3,25.2 199.3,25.4 200.7,26.3 202.5,26.3 204.6,24.9 205.8,25.4 206.6,24.5 209.4,23.7 209.9,23.3 211.9,22.2 212.8,22.5 214.2,22.1 216.1,21.1 218.1,20.3 219.8,21.2 220.6,20.9 222.3,22.0 225.0,23.2 226.7,23.9 228.3,24.1 230.2,26.3 230.2,27.5 233.5,27.3 235.1,28.7 235.5,31.2 236.8,31.4 238.6,33.4 239.6,33.5 240.4,33.9 242.9,34.8 244.8,34.1 247.2,34.8 247.6,34.9 249.7,34.9 251.7,35.5 253.3,36.5 254.5,36.9 256.0,36.5 258.1,38.0 259.9,38.0 261.8,38.8 262.4,39.7 263.7,40.4 264.7,41.3 267.0,42.5 267.5,43.9 269.4,44.9 270.7,46.1 271.1,46.1 273.0,47.9 274.5,49.3 275.4,49.7 275.7,51.4 277.8,52.5 278.5,53.4 280.4,56.5 281.0,56.5 282.1,57.8 283.5,58.8 283.5,59.7 284.7,62.5 285.9,63.2 286.9,65.2 287.7,65.6 287.8,68.5 289.1,70.0 289.6,71.0 290.7,73.2 291.5,74.7 292.1,76.0 293.3,78.0 293.4,80.0 294.5,81.9 296.4,83.4 296.5,84.9 296.6,86.4 298.3,88.2 298.7,88.6 298.4,92.5 299.7,93.0 299.2,95.5 299.1,97.2 299.8,98.3 299.6,98.8 299.8,98.0 300.4,95.9 301.2,93.3 302.0,92.0 301.4,90.9 302.9,91.5 303.8,93.5 304.5,95.5 305.6,97.1 306.8,95.5 307.7,93.3 308.2,93.1 308.1,93.7 308.1,95.4 308.8,97.5 309.1,98.3 309.5,100.3 311.7,102.6 312.3,103.6 313.7,106.0 314.1,108.0 313.6,109.0 315.1,110.8 315.0,112.2 315.7,114.0 316.3,115.3 317.8,116.7 316.8,118.9 317.4,119.9 318.9,121.6 318.8,123.7 318.9,125.6 320.4,126.9 319.1,129.8 319.8,132.1 320.4,133.0 319.0,135.5 319.6,136.3 319.4,137.0 319.7,136.2 319.9,134.6 320.8,131.9 321.0,129.5 322.4,128.2 322.0,124.3 321.8,125.3 322.0,125.5 322.2,127.7 322.8,128.9 322.9,131.4 322.6,132.9 323.4,135.4 324.1,136.8 323.6,139.9 324.5,140.8 323.9,143.4 323.7,144.9 324.5,145.6 324.6,146.9 324.1,148.6 325.0,151.0 324.8,152.7 324.9,153.3 325.0,156.0 326.5,157.1 325.7,159.3 326.5,160.6 326.2,162.9 326.8,165.0 326.8,165.5 327.6,167.9 326.9,170.1 327.2,170.8 327.9,172.5 327.5,175.2 327.8,176.8 329.0,177.3 328.1,179.0 330.0,181.6 329.3,182.7 330.5,183.7 331.3,186.4 330.7,187.7 330.4,189.8 330.6,191.2 330.8,192.9 331.1,195.2 330.8,195.8 331.8,197.2 330.2,199.6 331.4,201.1 331.8,203.9 331.4,204.4 331.0,207.3 332.5,208.5 333.2,210.4 332.3,211.4 333.1,214.1 332.7,215.2 333.7,217.9 334.7,219.8 333.5,220.3 334.2,222.2 333.9,223.8 334.4,225.5 334.4,226.1 334.6,227.7 335.2,229.3 335.8,231.8 336.6,233.6 336.5,235.1 336.1,235.8 337.0,237.6 337.9,239.3 337.6,241.8 338.0,242.8 337.1,245.6 337.7,247.3 337.8,248.2 338.2,250.1 338.4,251.0 338.0,252.8 337.9,255.3 337.8,256.8 338.9,257.9 339.3,260.1 339.2,261.0 338.7,263.1 339.2,264.1 339.6,265.6 339.7,268.1 340.3,270.0 340.4,272.0 341.2,274.3 343.6,276.5 342.9,278.6 345.0,280.3 345.8,277.8 346.3,277.0 346.0,276.0 346.6,274.3 346.5,272.9 347.1,270.6 346.1,269.4 346.1,266.8 346.6,264.3 347.0,262.3 346.9,259.8 346.2,257.0 346.1,254.6 346.4,252.5 346.5,250.4 345.7,248.2 346.2,247.1 346.9,245.4 345.7,243.8 346.4,242.3 347.2,243.7 346.5,242.2 346.1,243.2 347.0,243.3 346.6,244.7 346.9,245.8 346.7,247.8 346.5,249.6 346.7,251.3 347.0,254.2 347.1,256.0 346.9,258.3 348.1,261.5 347.7,264.0 348.1,266.5 347.5,268.7 347.8,270.9 348.7,272.6 348.2,275.1 347.5,276.3 348.0,278.3 347.9,279.2 348.2,280.5 348.5,281.0 348.5,280.9 348.4,281.0 348.7,279.7 348.8,279.2 348.8,278.9 349.3,277.6 349.3,276.8 349.0,274.5 348.6,272.5 348.7,271.6 349.3,269.1 349.7,267.0 347.9,264.9 349.8,263.5 348.5,260.8 348.7,258.4 348.9,256.0 349.2,254.2 348.9,251.3 349.0,250.7 349.3,247.9 348.5,246.1 350.0,244.5 350.0,242.7 350.1,241.8 349.6,240.5 349.2,237.4 350.0,235.0 350.1,233.5 350.0,232.1 350.5,229.7 351.1,228.5 351.4,228.0 351.4,226.1 350.5,223.9 351.3,223.4 351.9,221.6 352.4,220.8 351.2,217.9 351.8,217.2 352.0,214.3 352.6,212.7 352.1,210.4 352.7,207.9 353.1,207.9 353.3,205.9 353.2,204.2 352.7,203.0 354.9,200.8 356.6,199.8 356.4,199.0 356.3,197.3 356.4,195.2 356.7,193.5 357.5,192.2 357.1,190.3 356.7,187.4 357.4,184.9 357.2,184.0 357.3,182.1 357.5,180.4 357.8,178.6 358.7,176.2 356.9,175.2 359.0,173.8 358.8,172.7 359.2,170.4 359.2,168.7 360.2,167.1 360.7,164.9 360.3,163.4 361.0,161.5 361.8,159.7 362.2,157.8 362.0,156.1 362.4,154.3 362.4,152.7 363.2,151.4 363.1,148.6 364.2,147.2 363.2,144.7 362.8,142.5 363.5,140.7 363.7,139.4 365.7,138.5 366.4,138.3 367.7,137.4 368.1,136.2 367.6,135.1 367.5,133.4 367.2,131.7 367.0,129.2 367.1,127.1 367.6,125.6 368.2,124.0 368.5,122.8 368.3,120.5 369.2,118.9 367.6,116.6 368.3,115.0 368.4,114.1 370.4,112.6 371.1,111.0 373.7,109.8 374.8,109.6 375.4,108.1 376.2,106.4 376.1,105.3 377.3,103.7 377.9,103.1 378.3,101.3 379.3,98.9 378.3,97.5 379.0,97.1 380.1,94.3 381.3,93.9 381.5,91.2 382.4,90.6 383.2,88.3 382.8,86.3 384.9,86.1 383.9,84.0 384.9,82.7 385.7,79.3 385.8,77.3 385.2,76.6 385.9,74.5 386.7,72.5 387.4,71.0 388.0,70.4 389.1,68.7 389.7,67.0 392.3,66.4 393.1,64.6 393.9,63.5 396.4,63.0 396.1,61.4 397.8,61.5 399.9,59.6 400.8,59.6 402.0,58.6 404.2,59.7 405.5,59.0 407.4,58.7 409.2,58.0 410.8,58.5 412.7,58.0 413.8,57.7 416.5,57.5 417.0,57.7 419.6,57.3 420.8,57.3 422.8,56.4 424.5,55.9 425.9,54.7 427.0,55.0 427.5,54.6 429.7,53.0 430.3,52.7 433.8,51.8 434.1,52.0 435.7,50.6 437.0,50.7 439.6,49.7 440.9,50.9 442.0,51.5 444.3,51.2 444.8,52.3 446.7,53.0 449.3,52.7 450.5,52.6 451.5,53.7 453.1,54.1 454.7,54.4 457.2,53.6 458.9,53.8 460.7,53.2 461.8,52.1 464.0,52.0 465.3,51.6 465.7,50.9 467.9,49.8 470.1,48.9 471.6,48.2 472.4,47.4 474.0,46.6 475.3,45.0 477.1,44.6 479.3,44.8 480.8,45.0 483.2,44.8 484.2,44.4 486.1,44.3 487.3,45.2 489.8,45.6 491.4,45.9 493.3,46.3 494.2,46.6 495.3,47.5 498.0,48.6 499.0,48.5 501.0,47.7 501.5,48.2 503.9,46.5 505.4,47.4 505.9,46.0 508.4,45.5 509.8,44.6 511.3,45.0 512.2,43.6 514.6,42.8 516.8,43.7 517.5,43.7 520.0,43.0 521.5,43.7 523.5,43.8 524.7,44.2 527.0,44.2 528.3,45.2 530.3,43.9 531.5,44.1 534.0,44.4 534.9,44.6 537.6,45.1 538.3,44.8 540.4,45.4 541.5,46.5 543.8,45.8 545.3,45.8 546.9,45.4 548.2,45.4 551.0,46.9 551.1,45.9 553.2,46.8 554.7,46.5 556.9,45.7 558.8,46.1 559.7,45.0 560.5,44.8 562.8,44.7 565.4,44.0 566.5,43.8 568.6,43.8 570.2,43.7 571.7,43.2 573.5,42.7 575.0,42.8 577.6,42.8 578.9,42.8 580.9,43.2 582.1,43.2 583.8,43.8 585.1,44.0 586.4,44.5 588.7,44.6 590.2,44.0 592.3,45.1 593.3,45.2 595.0,44.9 596.5,45.6 598.8,43.9 601.1,45.2 603.0,43.7 603.6,42.8 606.0,42.5 607.5,42.3 609.3,42.0 609.5,42.1 610.8,41.1 612.0,40.7" stroke="#4DBEEE" stroke-width="4.6"/>
</g>
<text x="391" y="421" class="lb" text-anchor="middle">Wavelength (nm)</text>
<text transform="translate(34.3,169.2) rotate(-90)" class="lb" text-anchor="middle" style="font-size:44.3px">Norm. Trans. (dB)</text>
<rect x="130.9" y="89.1" width="151.4" height="215.2" fill="#fff" stroke="#000" stroke-width="1.6"/>
<line x1="137" y1="109.4" x2="156.5" y2="109.4" stroke="#0072BD" stroke-width="3.6"/>
<text x="161" y="120.4" class="lg">P=0mW</text>
<line x1="137" y1="144.4" x2="156.5" y2="144.4" stroke="#D95319" stroke-width="3.6"/>
<text x="161" y="155.4" class="lg">P=2mW</text>
<line x1="137" y1="179.4" x2="156.5" y2="179.4" stroke="#EDB120" stroke-width="3.6"/>
<text x="161" y="190.4" class="lg">P=4mW</text>
<line x1="137" y1="214.4" x2="156.5" y2="214.4" stroke="#7E2F8E" stroke-width="3.6"/>
<text x="161" y="225.4" class="lg">P=6mW</text>
<line x1="137" y1="249.4" x2="156.5" y2="249.4" stroke="#77AC30" stroke-width="3.6"/>
<text x="161" y="260.4" class="lg">P=8mW</text>
<line x1="137" y1="284.4" x2="156.5" y2="284.4" stroke="#4DBEEE" stroke-width="3.6"/>
<text x="161" y="295.4" class="lg">P=16mW</text>
<text x="609" y="305" class="pl">(a)</text>
<rect x="146.6" y="467.6" width="525.0" height="306.79999999999995" fill="none" stroke="#000" stroke-width="2"/>
<text x="134.0" y="481.6" class="tk" text-anchor="end">0</text>
<line x1="146.6" y1="621.0" x2="152.9" y2="621.0" stroke="#000" stroke-width="2"/>
<line x1="671.6" y1="621.0" x2="665.3000000000001" y2="621.0" stroke="#000" stroke-width="2"/>
<text x="132.5" y="635.0" class="tk" text-anchor="end">-0.25</text>
<text x="132.5" y="788.4" class="tk" text-anchor="end">-0.5</text>
<text x="146.6" y="823" class="tk" text-anchor="middle">0</text>
<line x1="277.9" y1="774.4" x2="277.9" y2="768.1" stroke="#000" stroke-width="2"/>
<line x1="277.9" y1="467.6" x2="277.9" y2="473.90000000000003" stroke="#000" stroke-width="2"/>
<text x="277.9" y="823" class="tk" text-anchor="middle">4</text>
<line x1="409.1" y1="774.4" x2="409.1" y2="768.1" stroke="#000" stroke-width="2"/>
<line x1="409.1" y1="467.6" x2="409.1" y2="473.90000000000003" stroke="#000" stroke-width="2"/>
<text x="409.1" y="823" class="tk" text-anchor="middle">8</text>
<line x1="540.4" y1="774.4" x2="540.4" y2="768.1" stroke="#000" stroke-width="2"/>
<line x1="540.4" y1="467.6" x2="540.4" y2="473.90000000000003" stroke="#000" stroke-width="2"/>
<text x="540.4" y="823" class="tk" text-anchor="middle">12</text>
<text x="671.6" y="823" class="tk" text-anchor="middle">16</text>
<text x="409" y="873" class="lb" text-anchor="middle">Power (mW)</text>
<text transform="translate(36.7,627.3) rotate(-90)" class="lb" text-anchor="start">(nm)</text>
<path d="M5.2,682.2 L36.8,665.8 L36.8,698.6 Z M9.9,683.2 L33.8,695.6 L33.8,670.7 Z" fill="#111" fill-rule="evenodd"/>
<path d="M6.6,656.5 C6.8,652.8 8.5,650.6 11,649.6 L36.3,640.8" fill="none" stroke="#111" stroke-width="2.8"/>
<path d="M22.6,648.3 L36.2,660.8" fill="none" stroke="#111" stroke-width="1.8"/>
<circle cx="146.5" cy="467.6" r="9.7" fill="none" stroke="#0072BD" stroke-width="2.1"/>
<circle cx="212.2" cy="517.7" r="9.7" fill="none" stroke="#0072BD" stroke-width="2.1"/>
<circle cx="277.9" cy="560.9" r="9.7" fill="none" stroke="#0072BD" stroke-width="2.1"/>
<circle cx="343.3" cy="620" r="9.7" fill="none" stroke="#0072BD" stroke-width="2.1"/>
<circle cx="409" cy="631.9" r="9.7" fill="none" stroke="#0072BD" stroke-width="2.1"/>
<circle cx="671.7" cy="703.4" r="9.7" fill="none" stroke="#0072BD" stroke-width="2.1"/>
<line x1="147" y1="498" x2="671.4" y2="726.8" stroke="#FF0000" stroke-width="2.2"/>
<text x="314" y="544" class="eq">y = - 0.023x - 0.049</text>
<rect x="162.9" y="682" width="149.9" height="75" fill="#fff" stroke="#000" stroke-width="1.6"/>
<circle cx="199.4" cy="702.2" r="9.5" fill="none" stroke="#0072BD" stroke-width="2.1"/>
<line x1="169" y1="736.7" x2="229.4" y2="736.7" stroke="#FF0000" stroke-width="2.2"/>
<text x="234" y="712.6" class="lg">Meas.</text>
<text x="234" y="747.3" class="lg">Fit.</text>
<text x="609" y="761" class="pl">(b)</text>
</svg>
</body></html>
